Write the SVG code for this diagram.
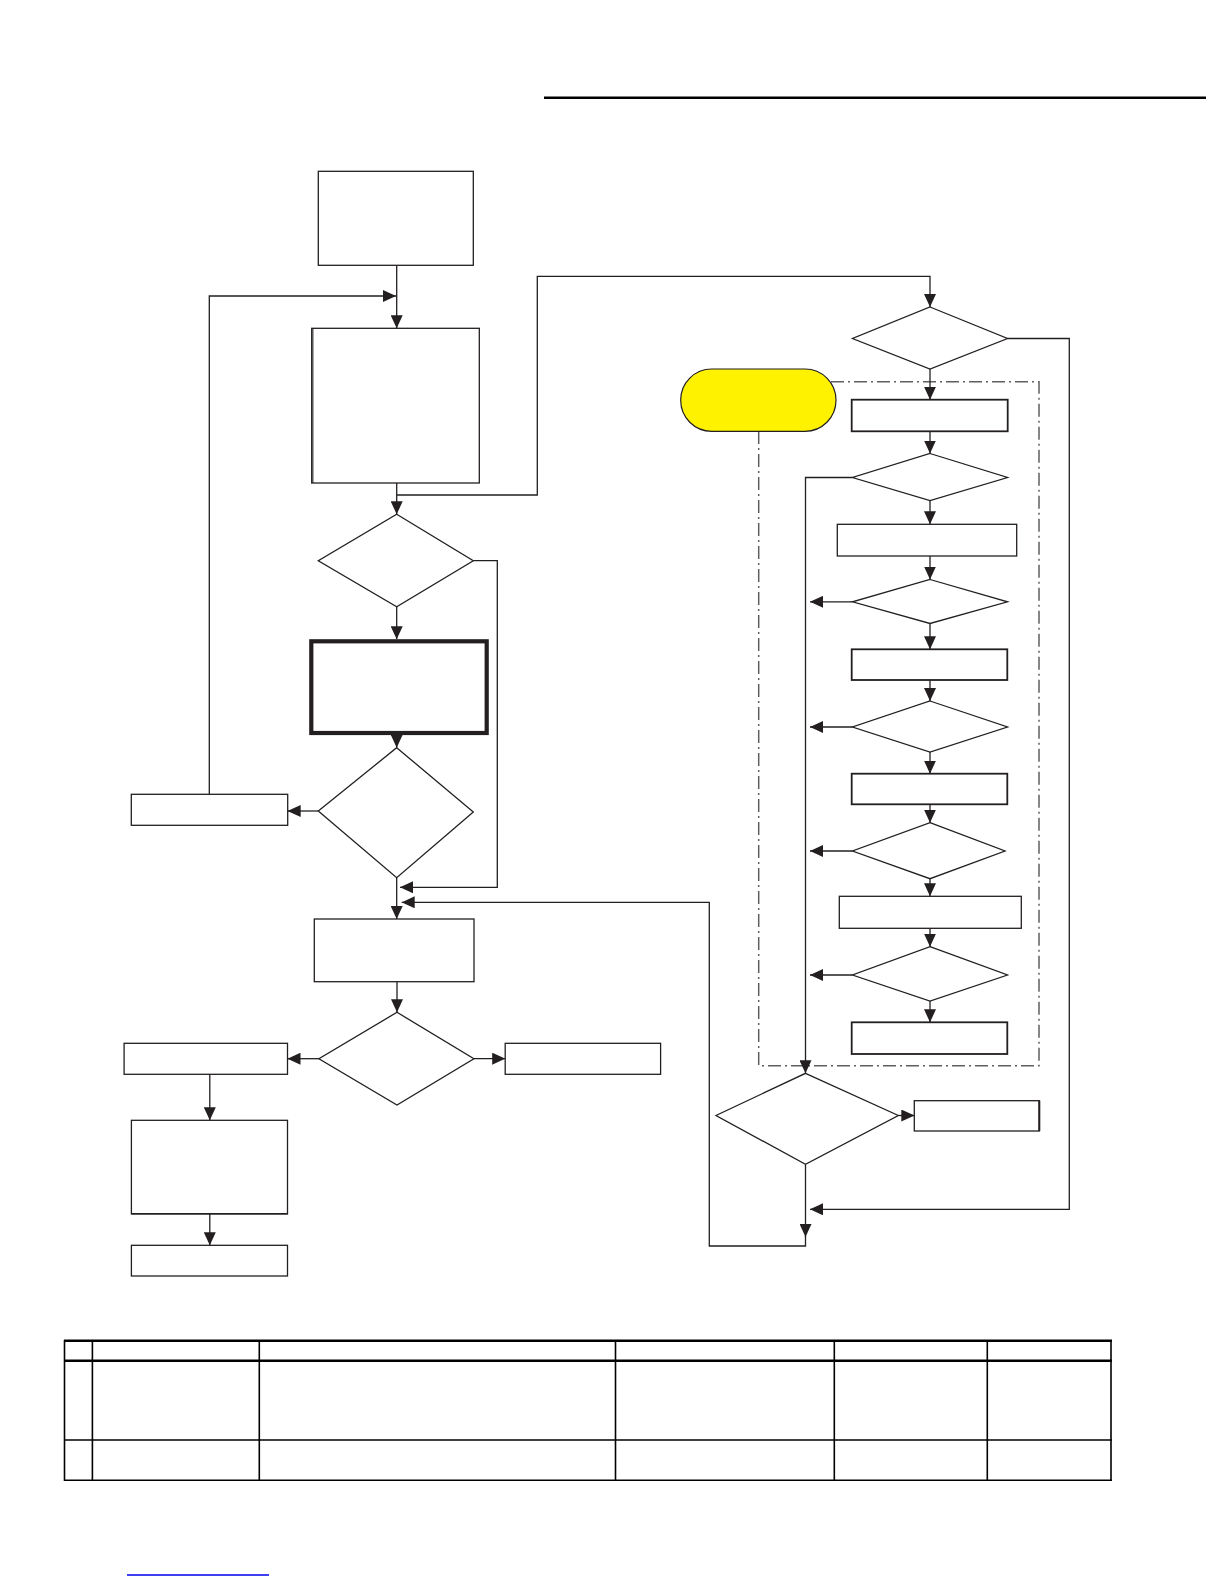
<svg xmlns="http://www.w3.org/2000/svg" width="1225" height="1585" viewBox="0 0 1225 1585">
<style>
.n{fill:#fff;stroke:#231f20;stroke-width:1.3}
.nb{fill:#fff;stroke:#231f20;stroke-width:1.8}
.nt{fill:#fff;stroke:#231f20;stroke-width:4.2}
.c{fill:none;stroke:#231f20;stroke-width:1.3}
.dd{fill:none;stroke:#5f5f5f;stroke-width:1.5;stroke-dasharray:13 4 2 4}
.t{stroke:#000;stroke-width:1.6}
.tk{stroke:#000;stroke-width:2.6}
</style>
<defs>
<marker id="ah" markerUnits="userSpaceOnUse" markerWidth="13" markerHeight="12" refX="13" refY="6" orient="auto">
<path d="M0,0 L13,6 L0,12 z" fill="#231f20"/>
</marker>
</defs>
<rect width="1225" height="1585" fill="#fff"/>
<line x1="544" y1="97.7" x2="1206" y2="97.7" stroke="#000" stroke-width="2.5"/>

<path class="dd" d="M831,381.7 H1039 V1065.7 H758.7 V431.3"/>

<g id="connectors">
<path class="c" marker-end="url(#ah)" d="M396.7,265.3 V328.3"/>
<path class="c" marker-end="url(#ah)" d="M209.3,794.3 V296 H396"/>
<path class="c" marker-end="url(#ah)" d="M396.7,483 V514.3"/>
<path class="c" marker-end="url(#ah)" d="M396.7,495 H537.3 V276.3 H930 V307"/>
<path class="c" marker-end="url(#ah)" d="M473.3,560.7 H497.3 V887.3 H400"/>
<path class="c" marker-end="url(#ah)" d="M396.7,606.7 V639.3"/>
<path class="c" marker-end="url(#ah)" d="M396.7,735 V747.7"/>
<path class="c" marker-end="url(#ah)" d="M318.3,811 H287.7"/>
<path class="c" marker-end="url(#ah)" d="M396.7,877.7 V919"/>
<path class="c" marker-end="url(#ah)" d="M805.5,1164.3 V1237"/>
<path class="c" marker-end="url(#ah)" d="M805.5,1236 V1246 H709.3 V902.3 H401.7"/>
<path class="c" marker-end="url(#ah)" d="M397,981.7 V1012.3"/>
<path class="c" marker-end="url(#ah)" d="M318.9,1058.7 H287.5"/>
<path class="c" marker-end="url(#ah)" d="M473.9,1058.7 H505.2"/>
<path class="c" marker-end="url(#ah)" d="M209.8,1074.3 V1120.3"/>
<path class="c" marker-end="url(#ah)" d="M209.8,1214 V1245.3"/>
<path class="c" marker-end="url(#ah)" d="M1007.5,338.5 H1069.3 V1209.3 H810"/>
<path class="c" marker-end="url(#ah)" d="M930,369 V399.7"/>
<path class="c" marker-end="url(#ah)" d="M930,431.3 V453.5"/>
<path class="c" marker-end="url(#ah)" d="M852.5,477.5 H805.5 V1073.3"/>
<path class="c" marker-end="url(#ah)" d="M930,500.5 V524.3"/>
<path class="c" marker-end="url(#ah)" d="M930,556 V579.5"/>
<path class="c" marker-end="url(#ah)" d="M852.5,601.8 H810"/>
<path class="c" marker-end="url(#ah)" d="M930,623.5 V649.3"/>
<path class="c" marker-end="url(#ah)" d="M930,680 V701"/>
<path class="c" marker-end="url(#ah)" d="M852.5,727 H810"/>
<path class="c" marker-end="url(#ah)" d="M930,752 V773.7"/>
<path class="c" marker-end="url(#ah)" d="M930,804.3 V822.7"/>
<path class="c" marker-end="url(#ah)" d="M852.5,851 H810"/>
<path class="c" marker-end="url(#ah)" d="M930,878.7 V896.3"/>
<path class="c" marker-end="url(#ah)" d="M930,928.3 V946.7"/>
<path class="c" marker-end="url(#ah)" d="M852.5,975 H810"/>
<path class="c" marker-end="url(#ah)" d="M930,1001 V1022.3"/>
<path class="c" marker-end="url(#ah)" d="M898.3,1115.5 H914.3"/>
</g>

<g id="nodeA"><rect class="n" x="318.3" y="171.3" width="155" height="94"/></g>
<g id="nodeB"><rect class="n" x="311.7" y="328.3" width="167.6" height="154.7"/><line x1="312.9" y1="328.3" x2="312.9" y2="483" stroke="#231f20" stroke-width="1"/></g>
<g id="decision1"><polygon class="n" points="396.7,514.3 473.3,560.7 396.7,606.7 318.3,560.7"/></g>
<g id="nodeC"><rect class="nt" x="311.3" y="641.3" width="175.4" height="91.7"/></g>
<g id="decision2"><polygon class="n" points="396.7,747.7 473.3,812 396.7,877.7 318.3,811"/></g>
<g id="nodeD"><rect class="n" x="131.3" y="794.3" width="156.4" height="31"/></g>
<g id="nodeE"><rect class="n" x="314.3" y="919" width="159.7" height="62.7"/></g>
<g id="decision3"><polygon class="n" points="397,1012.3 473.9,1058.7 397,1105 318.9,1058.7"/></g>
<g id="nodeF"><rect class="n" x="124.1" y="1043.3" width="163.4" height="31"/></g>
<g id="nodeG"><rect class="n" x="505.2" y="1043.3" width="155.4" height="31"/></g>
<g id="nodeH"><rect class="n" x="131.4" y="1120.3" width="156.1" height="93.7"/><line x1="131.4" y1="1213.6" x2="287.5" y2="1213.6" stroke="#231f20" stroke-width="1.2"/></g>
<g id="nodeI"><rect class="n" x="131.4" y="1245.3" width="156.1" height="30.7"/></g>

<g id="terminator"><rect x="680.7" y="369" width="155.3" height="62.3" rx="31" ry="31" fill="#fff200" stroke="#231f20" stroke-width="1.2"/></g>
<g id="decisionR1"><polygon class="n" points="930,307 1007.5,338.5 930,369 852.5,338.5"/></g>
<g id="nodeR2"><rect class="nb" x="851.7" y="399.7" width="156" height="31.6"/></g>
<g id="decisionR3"><polygon class="n" points="930,453.5 1007.5,477.5 930,500.5 852.5,477.5"/></g>
<g id="nodeR4"><rect class="n" x="837.3" y="524.3" width="179.4" height="31.7"/></g>
<g id="decisionR5"><polygon class="n" points="930,579.5 1007.5,601.8 930,623.5 852.5,601.8"/></g>
<g id="nodeR6"><rect class="nb" x="851.7" y="649.3" width="155.6" height="30.7"/></g>
<g id="decisionR7"><polygon class="n" points="930,701 1007.5,727 930,752 852.5,727"/></g>
<g id="nodeR8"><rect class="nb" x="851.7" y="773.7" width="155.6" height="30.6"/></g>
<g id="decisionR9"><polygon class="n" points="930,822.7 1005,851 930,878.7 852.5,851"/></g>
<g id="nodeR10"><rect class="n" x="839.3" y="896.3" width="182" height="32"/></g>
<g id="decisionR11"><polygon class="n" points="930,946.7 1007.5,975 930,1001 852.5,975"/></g>
<g id="nodeR12"><rect class="nb" x="851.7" y="1022.3" width="155.6" height="31.7"/></g>
<g id="decisionRF"><polygon class="n" points="805.5,1073.3 898.3,1115.5 805.5,1164.3 716,1115.5"/></g>
<g id="nodeRB"><rect class="n" x="914.3" y="1100.7" width="125" height="30.3"/><line x1="1039.3" y1="1100.7" x2="1039.3" y2="1131" stroke="#231f20" stroke-width="2"/></g>

<g id="table">
<line class="tk" x1="64" y1="1340.7" x2="1112" y2="1340.7"/>
<line class="tk" x1="64" y1="1360.7" x2="1112" y2="1360.7"/>
<line class="t" x1="64" y1="1440" x2="1112" y2="1440"/>
<line class="t" x1="64" y1="1480.3" x2="1112" y2="1480.3"/>
<line class="t" x1="64.5" y1="1340" x2="64.5" y2="1481"/>
<line class="t" x1="92.4" y1="1340" x2="92.4" y2="1481"/>
<line class="t" x1="259.3" y1="1340" x2="259.3" y2="1481"/>
<line class="t" x1="615.5" y1="1340" x2="615.5" y2="1481"/>
<line class="t" x1="834.3" y1="1340" x2="834.3" y2="1481"/>
<line class="t" x1="987.3" y1="1340" x2="987.3" y2="1481"/>
<line class="t" x1="1111" y1="1340" x2="1111" y2="1481"/>
</g>
<line x1="127" y1="1575" x2="269" y2="1575" stroke="#0000ee" stroke-width="1.3"/>
</svg>
